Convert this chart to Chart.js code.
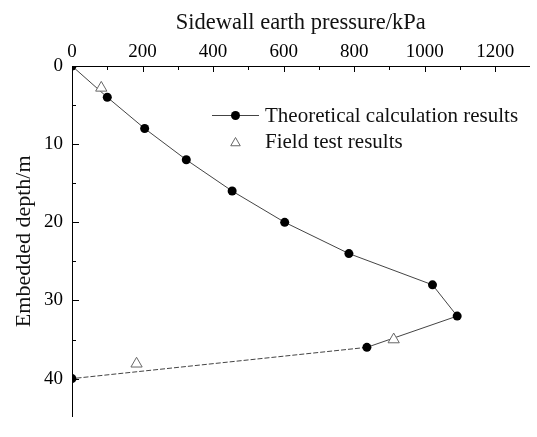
<!DOCTYPE html>
<html>
<head>
<meta charset="utf-8">
<script src="https://cdn.jsdelivr.net/npm/chart.js@4"></script>
<style>
  html, body { margin: 0; padding: 0; background: #fff; overflow: hidden; }
  #wrap { width: 537px; height: 437px; }
</style>
</head>
<body>
<div id="wrap"><canvas id="myChart" width="537" height="437"></canvas></div>
<script>
// data
const depth = [0, 4, 8, 12, 16, 20, 24, 28, 32, 36, 40];
const theoryPressure = [0, 100, 206, 324, 454, 603, 785, 1022, 1092, 836, 0];
const fieldDepth = [2.8, 35, 38.1];
const fieldPressure = [83, 912, 183];
const xTicks = [0, 200, 400, 600, 800, 1000, 1200];
const yTicks = [0, 10, 20, 30, 40];
const seriesNames = ['Theoretical calculation results', 'Field test results'];

const serif = 'Liberation Serif';

// inward major/minor ticks
const innerTicks = {
    id: 'innerTicks',
    afterDraw(chart) {
        const ctx = chart.ctx;
        const xs = chart.scales.x, ys = chart.scales.y;
        const area = chart.chartArea;
        ctx.save();
        ctx.strokeStyle = '#000';
        ctx.lineWidth = 1;
        ctx.beginPath();
        xTicks.forEach((v, i) => {
            const px = Math.round(xs.getPixelForValue(v)) + 0.5;
            ctx.moveTo(px, area.top);
            ctx.lineTo(px, area.top + 6);
            const mid = v + (xTicks[1] - xTicks[0]) / 2;
            if (mid <= xs.max) {
                const mx = Math.round(xs.getPixelForValue(mid)) + 0.5;
                ctx.moveTo(mx, area.top);
                ctx.lineTo(mx, area.top + 4);
            }
        });
        yTicks.forEach(v => {
            const py = Math.round(ys.getPixelForValue(v)) + 0.5;
            ctx.moveTo(area.left, py);
            ctx.lineTo(area.left + 7, py);
            const mid = v + (yTicks[1] - yTicks[0]) / 2;
            if (mid <= ys.max) {
                const my = Math.round(ys.getPixelForValue(mid)) + 0.5;
                ctx.moveTo(area.left, my);
                ctx.lineTo(area.left + 4, my);
            }
        });
        ctx.stroke();
        ctx.restore();
    }
};

// legend inside the plot
const innerLegend = {
    id: 'innerLegend',
    afterDraw(chart) {
        const ctx = chart.ctx;
        ctx.save();
        ctx.font = '21px "' + serif + '"';
        ctx.textBaseline = 'middle';
        // line + dot
        ctx.strokeStyle = '#444';
        ctx.lineWidth = 1;
        ctx.beginPath();
        ctx.moveTo(212, 115.5);
        ctx.lineTo(259, 115.5);
        ctx.stroke();
        ctx.beginPath();
        ctx.arc(235.5, 115.5, 4.5, 0, Math.PI * 2);
        ctx.fillStyle = '#000';
        ctx.fill();
        ctx.fillStyle = '#111';
        ctx.fillText(seriesNames[0], 265, 116);
        // open triangle
        const r = 5.5;
        const cx = 235.5, cy = 143;
        ctx.beginPath();
        ctx.moveTo(cx, cy - r);
        ctx.lineTo(cx + r * Math.sin(Math.PI / 3), cy + r / 2);
        ctx.lineTo(cx - r * Math.sin(Math.PI / 3), cy + r / 2);
        ctx.closePath();
        ctx.fillStyle = '#fff';
        ctx.fill();
        ctx.strokeStyle = '#666';
        ctx.stroke();
        ctx.fillStyle = '#111';
        ctx.fillText(seriesNames[1], 265, 142);
        ctx.restore();
    }
};

const ctx = document.getElementById('myChart').getContext('2d');
const chart = new Chart(ctx, {
    type: 'scatter',
    data: {
        datasets: [{
            label: seriesNames[0],
            data: depth.map((d, i) => ({ x: theoryPressure[i], y: d })),
            showLine: true,
            borderColor: '#444',
            borderWidth: 1,
            backgroundColor: '#000',
            pointBackgroundColor: '#000',
            pointBorderColor: '#000',
            pointRadius: 4.5,
            pointBorderWidth: 0,
            clip: 0,
            segment: {
                borderDash: c => c.p0DataIndex >= depth.length - 2 ? [5, 2] : undefined
            },
            order: 2
        }, {
            label: seriesNames[1],
            data: fieldDepth.map((d, i) => ({ x: fieldPressure[i], y: d })),
            showLine: false,
            pointStyle: 'triangle',
            pointRadius: 6.5,
            pointBorderWidth: 1,
            pointBorderColor: '#666',
            pointBackgroundColor: '#fff',
            clip: 0,
            order: 1
        }]
    },
    options: {
        responsive: false,
        animation: false,
        layout: { padding: 0 },
        plugins: {
            legend: { display: false },
            tooltip: { enabled: false }
        },
        scales: {
            x: {
                type: 'linear',
                position: 'top',
                min: 0,
                max: 1297,
                afterBuildTicks: s => { s.ticks = xTicks.map(v => ({ value: v })); },
                afterFit: s => { s.height = 66; },
                grid: { display: false, drawTicks: false },
                border: { display: true, color: '#000', width: 1 },
                ticks: {
                    color: '#000',
                    padding: 3,
                    maxRotation: 0,
                    font: { family: serif, size: 19 },
                    callback: v => String(v)
                },
                title: {
                    display: true,
                    text: 'Sidewall earth pressure/kPa',
                    color: '#111',
                    font: { family: serif, size: 22.5 },
                    padding: { top: 10, bottom: 0 }
                }
            },
            y: {
                type: 'linear',
                reverse: true,
                min: 0,
                max: 44.86,
                afterBuildTicks: s => { s.ticks = yTicks.map(v => ({ value: v })); },
                afterFit: s => { s.width = 72; },
                grid: { display: false, drawTicks: false },
                border: { display: true, color: '#000', width: 1 },
                ticks: {
                    color: '#000',
                    padding: 9,
                    font: { family: serif, size: 19 },
                    callback: v => String(v)
                },
                title: {
                    display: true,
                    text: 'Embedded depth/m',
                    color: '#111',
                    font: { family: serif, size: 22 },
                    padding: { top: 11, bottom: 0 }
                }
            }
        }
    },
    plugins: [innerTicks, innerLegend]
});
</script>
</body>
</html>
